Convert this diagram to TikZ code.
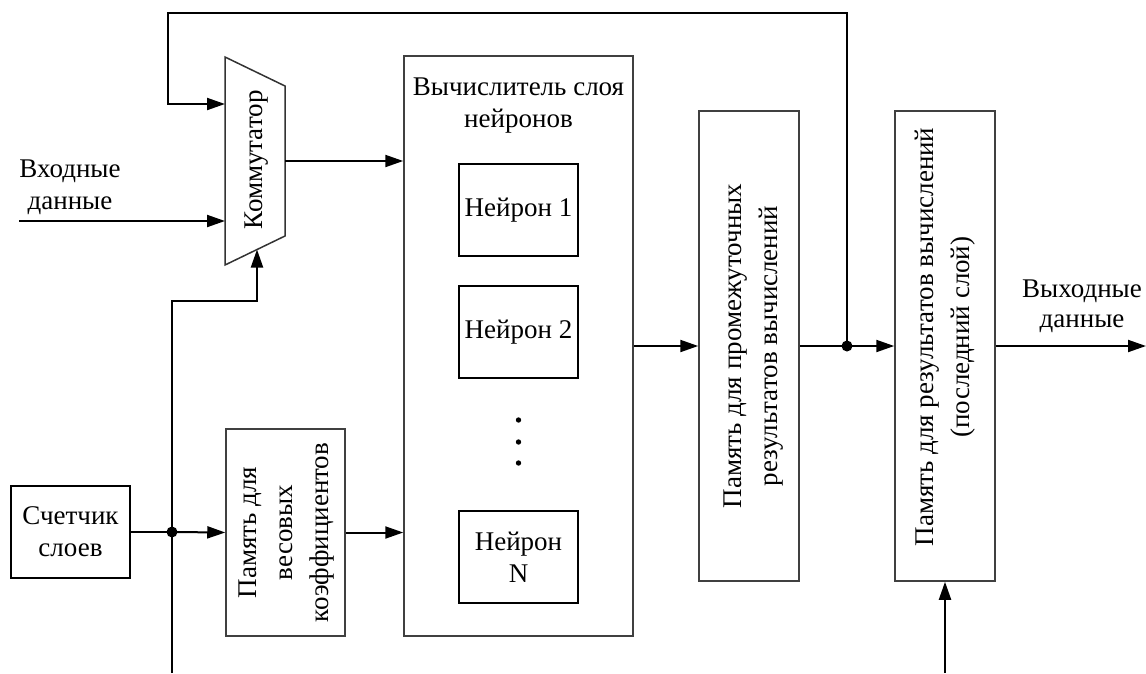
\documentclass[tikz,border=0pt]{standalone}
\usepackage{fontspec}
\setmainfont{Liberation Serif}
\usetikzlibrary{arrows.meta}

\begin{document}
\begin{tikzpicture}[x=1pt, y=-1pt,
  font=\fontsize{27}{32}\selectfont,
  thinbox/.style={draw=black!75, line width=1.5pt, inner sep=0pt},
  thickbox/.style={draw=black, line width=2.8pt, inner sep=0pt, align=center},
  vlabel/.style={rotate=90, align=center, inner sep=0pt, font=\fontsize{27}{36}\selectfont},
  conn/.style={draw=black, line width=2pt},
  arr/.style={conn, -{Triangle[length=18pt, width=12pt]}},
  jdot/.style={fill=black}
]
\useasboundingbox (0,0) rectangle (1146,673);

% layer counter
\node[thickbox, minimum width=119pt, minimum height=92pt] (cnt) at (70.5,532) {Счетчик\\слоев};

% weight memory
\node[thinbox, minimum width=119pt, minimum height=207pt] (wmem) at (285.5,532.5) {};
\node[vlabel] (wmemlbl) at (287,532.5) {Память для\\весовых\\коэффициентов};

% layer calculator with its neurons
\node[thinbox, minimum width=229pt, minimum height=580pt] (calc) at (518.5,346) {};
\node[align=center, inner sep=0pt] (calclbl) at (518.5,106) {Вычислитель слоя\\нейронов};
\node[thickbox, minimum width=119pt, minimum height=92pt] (n1) at (518.5,210) {Нейрон 1};
\node[thickbox, minimum width=119pt, minimum height=92pt] (n2) at (518.5,332) {Нейрон 2};
\node[thickbox, minimum width=119pt, minimum height=92pt] (nN) at (518.5,557) {Нейрон\\N};
\fill (518.5,420) circle (2.7pt) (518.5,442) circle (2.7pt) (518.5,463) circle (2.7pt);

% result memories
\node[thinbox, minimum width=100pt, minimum height=470pt] (m1) at (749,346) {};
\node[vlabel] (m1lbl) at (754,346) {Память для промежуточных\\результатов вычислений};
\node[thinbox, minimum width=100pt, minimum height=470pt] (m2) at (945,346) {};
\node[vlabel] (m2lbl) at (945,337) {Память для результатов вычислений\\(последний слой)};

% commutator (trapezoid)
\coordinate (cTL) at (225,57);
\coordinate (cBL) at (225,265);
\coordinate (cTR) at (285,86);
\coordinate (cBR) at (285,236);
\draw[draw=black!80, line width=1.5pt] (cTL) -- (cTR) -- (cBR) -- (cBL) -- cycle;
\node[rotate=90, inner sep=0pt] (comm) at (257,160) {Коммутатор};
\coordinate (cInFb) at (225,104);
\coordinate (cInData) at (225,221);
\coordinate (cOut) at (285,161);
\coordinate (cInCtl) at (257,249.5);

% external labels
\node[align=center, inner sep=0pt] (inlbl) at (70,187) {Входные\\данные};
\node[align=center, inner sep=0pt, font=\fontsize{27}{30}\selectfont] (outlbl) at (1082,306) {Выходные\\данные};

% connector points
\coordinate (j1) at (172,532);
\coordinate (j2) at (847,346);
\coordinate (inStart) at (19,221);
\coordinate (outEnd) at (1146,346);
\coordinate (ctlBottom) at (172,673);
\coordinate (m2Bottom) at (945,673);
\coordinate (fbLeft) at (168,13);

% connectors
\draw[conn] (cnt.east) -- (j1);
\draw[arr] (j1) -- (wmem.west);
\draw[arr] (wmem.east) -- (calc.west |- wmem.east);
\draw[arr] (cOut) -- (calc.west |- cOut);
\draw[arr] (inStart) -- (cInData);
\draw[arr] (ctlBottom) -- (172,301) -| (cInCtl);
\draw[arr] (calc.east) -- (m1.west);
\draw[conn] (m1.east) -- (j2);
\draw[arr] (j2) -- (m2.west);
\draw[arr] (m2.east) -- (outEnd);
\draw[arr] (m2Bottom) -- (m2.south);
\draw[arr] (j2) |- (fbLeft) |- (cInFb);

\fill[jdot] (j1) circle (5.5pt);
\fill[jdot] (j2) circle (5.5pt);
\end{tikzpicture}
\end{document}
